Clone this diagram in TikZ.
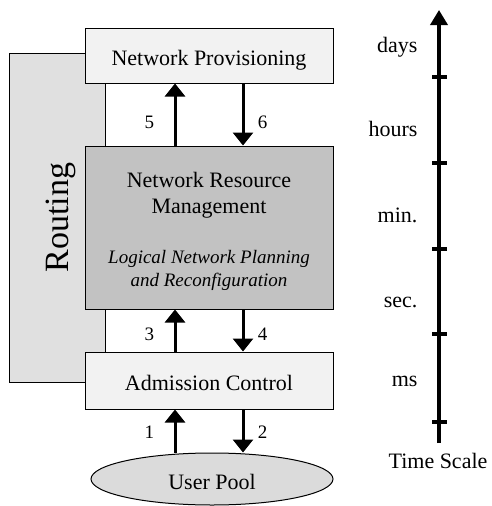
\documentclass[tikz,border=0pt]{standalone}
\usepackage{fontspec}
\setmainfont{Liberation Serif}
\usepackage{tikz}
\usetikzlibrary{shapes,arrows.meta,positioning,calc}

\definecolor{boxlight}{gray}{0.95}
\definecolor{boxdark}{gray}{0.76}
\definecolor{routegray}{gray}{0.88}
\definecolor{poolgray}{gray}{0.86}

\begin{document}
\begin{tikzpicture}[x=1pt,y=-1pt,
    box/.style={draw, line width=1pt, minimum width=248pt, inner sep=0pt},
    bigtext/.style={font=\fontsize{22}{26}\selectfont},
    flow/.style={line width=3pt, -{Triangle[width=20pt,length=13pt]}},
    num/.style={font=\fontsize{19}{22}\selectfont},
    tlabel/.style={anchor=base east, font=\fontsize{22}{26}\selectfont}]
    \useasboundingbox (0,0) rectangle (491,506);

    % Routing (behind the boxes)
    \node[draw, line width=1pt, fill=routegray, minimum width=329pt, minimum height=96pt,
          rotate=90, text depth=0pt, font=\fontsize{34}{40}\selectfont] (route) at (57,217.5) {Routing};

    % Boxes
    \node[box, bigtext, fill=boxlight, minimum height=55pt, text height=19pt, text depth=0pt] (prov) at (209,55.5) {Network Provisioning};
    \node[box, fill=boxdark, minimum height=163pt] (nrm) at (209,227.5) {};
    \node[bigtext, align=center] (nrmtitle) at (209,195) {Network Resource\\Management};
    \node[align=center, font=\fontsize{19}{23}\selectfont\itshape] (nrmsub) at (209,270) {Logical Network Planning\\and Reconfiguration};
    \node[box, bigtext, fill=boxlight, minimum height=57pt, text height=19pt, text depth=0pt] (adm) at (209,380.5) {Admission Control};
    \node[draw, ellipse, line width=1pt, fill=poolgray, inner sep=0pt, minimum width=242pt, minimum height=52pt,
          bigtext, text height=20pt, text depth=0pt] (pool) at (212,479) {User Pool};

    % Flows
    \coordinate (upx) at (175,0);
    \coordinate (dnx) at (243,0);
    \draw[flow] (nrm.north -| upx) -- node[num, pos=0.38, left=16pt] (l5) {5} (prov.south -| upx);
    \draw[flow] (prov.south -| dnx) -- node[num, pos=0.62, right=10pt] (l6) {6} (nrm.north -| dnx);
    \draw[flow] (adm.north -| upx) -- node[num, pos=0.42, left=16pt] (l3) {3} (nrm.south -| upx);
    \draw[flow] (nrm.south -| dnx) -- node[num, pos=0.58, right=10pt] (l4) {4} (adm.north -| dnx);
    \draw[flow] (pool.north -| upx) -- node[num, pos=0.47, left=16pt] (l1) {1} (adm.south -| upx);
    \draw[flow] (adm.south -| dnx) -- node[num, pos=0.53, right=10pt] (l2) {2} (pool.north -| dnx);

    % Time scale
    \coordinate (tbot) at (439,443);
    \coordinate (ttop) at (439,10);
    \draw[line width=3.5pt, -{Triangle[width=17pt,length=15pt]}] (tbot) -- (ttop);
    \foreach \y in {77,163,249,334,422}
        \draw[line width=3.5pt] (432,\y) -- (447,\y);
    \foreach \t/\y [count=\i] in {days/52, hours/136, min./222, sec./307, ms/386}
        \node[tlabel] (tl\i) at (421,\y) {\t};
    \node[anchor=base, font=\fontsize{22}{26}\selectfont] (tscale) at (438,468) {Time Scale};
\end{tikzpicture}
\end{document}
